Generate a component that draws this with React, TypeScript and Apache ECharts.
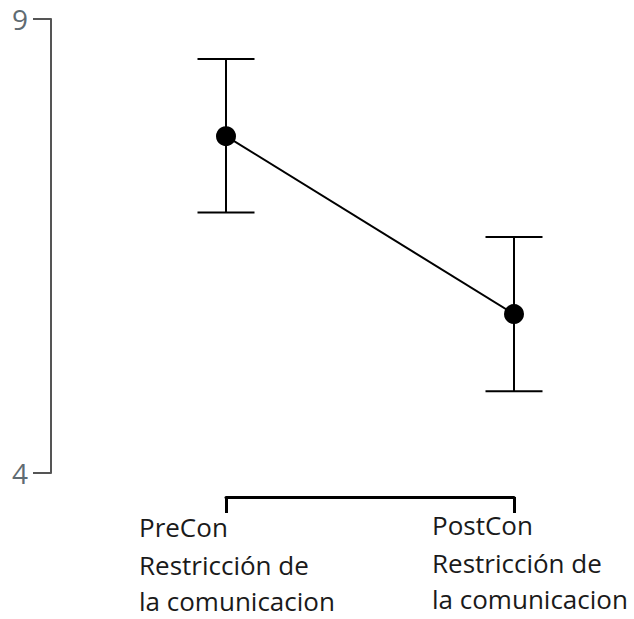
import React, { useEffect, useRef } from "react";
import * as echarts from "echarts";

const categories = [
  "PreCon\nRestricción de\nla comunicacion",
  "PostCon\nRestricción de\nla comunicacion",
];
const means = [7.71, 5.75];
const upper = [8.56, 6.6];
const lower = [6.87, 4.9];
const yMin = 4;
const yMax = 9;

export default function App() {
  const ref = useRef<HTMLDivElement>(null);
  useEffect(() => {
    if (!ref.current) return;
    const chart = echarts.init(ref.current, null, { renderer: "svg" });
    const labelPads = [
      [2, 0, 0, 26],
      [0, 0, 0, 36],
    ];
    const labelFont = {
      fontSize: 26,
      lineHeight: 38,
      fontFamily: "Open Sans",
      color: "#1a1a1a",
    };
    const option = {
      animation: false,
      backgroundColor: "#ffffff",
      grid: {
        left: 226,
        right: 120,
        top: 19,
        bottom: 146,
        containLabel: false,
        outerBoundsMode: "none",
      },
      xAxis: {
        type: "category",
        boundaryGap: false,
        offset: 24,
        data: categories.map((c, i) => ({ value: c, textStyle: { padding: labelPads[i] } })),
        axisLine: { show: true, lineStyle: { color: "#000000", width: 3 } },
        axisTick: { show: true, length: 16, lineStyle: { color: "#000000", width: 3 } },
        axisLabel: {
          interval: 0,
          verticalAlign: "top",
          margin: 9,
          ...labelFont,
          formatter: (v: string) => {
            const lines = v.split("\n");
            return lines
              .map((s, i) => (i === lines.length - 1 ? `{b|${s}}` : `{a|${s}}`))
              .join("\n");
          },
          rich: {
            a: { ...labelFont, width: 200, align: "left" },
            b: { ...labelFont, lineHeight: 34, width: 200, align: "left" },
          },
        },
        splitLine: { show: false },
      },
      yAxis: {
        type: "value",
        min: yMin,
        max: yMax,
        interval: yMax - yMin,
        offset: 175,
        axisLine: { show: true, lineStyle: { color: "#555555", width: 2 } },
        axisTick: { show: true, length: 18, lineStyle: { color: "#555555", width: 2 } },
        axisLabel: { fontSize: 28, fontFamily: "Open Sans", color: "#5f6b72", margin: 23 },
        splitLine: { show: false },
      },
      series: [
        {
          type: "custom",
          z: 1,
          data: categories.map((_, i) => [i, lower[i], upper[i]]),
          renderItem: (params: any, api: any) => {
            const x = api.value(0);
            const lo = api.coord([x, api.value(1)]);
            const hi = api.coord([x, api.value(2)]);
            const hw = 28.5;
            const style = { stroke: "#000000", lineWidth: 2 };
            return {
              type: "group",
              children: [
                { type: "line", shape: { x1: lo[0], y1: lo[1], x2: hi[0], y2: hi[1] }, style },
                { type: "line", shape: { x1: hi[0] - hw, y1: hi[1], x2: hi[0] + hw, y2: hi[1] }, style },
                { type: "line", shape: { x1: lo[0] - hw, y1: lo[1], x2: lo[0] + hw, y2: lo[1] }, style },
              ],
            };
          },
        },
        {
          type: "line",
          z: 2,
          data: means,
          symbol: "circle",
          symbolSize: 20,
          itemStyle: { color: "#000000" },
          lineStyle: { color: "#000000", width: 2 },
        },
      ],
    };
    chart.setOption(option as any);
    return () => chart.dispose();
  }, []);
  return (
    <div
      ref={ref}
      style={{ position: "fixed", left: 0, top: 0, width: 634, height: 619 }}
    />
  );
}
